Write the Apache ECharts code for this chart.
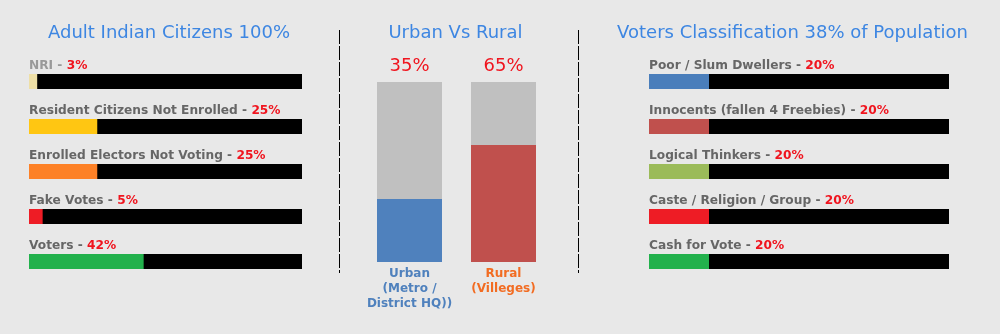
<!DOCTYPE html>
<html><head><meta charset="utf-8">
<script src="https://cdn.jsdelivr.net/npm/echarts@6/dist/echarts.min.js"></script>
<style>html,body{margin:0;padding:0;background:#e8e8e8}#c{width:1000px;height:334px}</style>
</head><body><div id="c"></div><script>
const titles = ['Adult Indian Citizens 100%', 'Urban Vs Rural', 'Voters Classification 38% of Population'];
const citizenCategories = ['NRI', 'Resident Citizens Not Enrolled', 'Enrolled Electors Not Voting', 'Fake Votes', 'Voters'];
const citizenValues = [3, 25, 25, 5, 42];
const citizenColors = ['#eedfa6', '#ffc612', '#fd8127', '#ee1c25', '#22b14c'];
const areaCategories = ['Urban\n(Metro /\nDistrict HQ))', 'Rural\n(Villeges)'];
const areaValues = [35, 65];
const areaColors = ['#4f81bd', '#c0504d'];
const areaLabelColors = ['#4f81bd', '#f26c22'];
const voterCategories = ['Poor / Slum Dwellers', 'Innocents (fallen 4 Freebies)', 'Logical Thinkers', 'Caste / Religion / Group', 'Cash for Vote'];
const voterValues = [20, 20, 20, 20, 20];
const voterColors = ['#4a7ebb', '#c0504d', '#9bbb59', '#ee1c25', '#22b14c'];
const SCALE_MAX = 100;

const FONT = 'DejaVu Sans, Verdana, sans-serif';
const chart = echarts.init(document.getElementById('c'), null, {renderer: 'canvas'});

function hSeries(idx, cats, vals, colors) {
  return {
    type: 'bar', xAxisIndex: idx, yAxisIndex: idx, barWidth: 15, silent: true,
    showBackground: true, backgroundStyle: {color: '#000000', opacity: 1},
    data: vals.map((v, i) => ({value: v, itemStyle: {color: colors[i]}})),
    label: {
      show: true, position: [0, -8], align: 'left', verticalAlign: 'middle',
      formatter: p => {
        const nm = cats[p.dataIndex];
        const st = nm === 'NRI' ? 'm' : 'n';
        return `{${st}|${nm} - }{v|${p.value}%}`;
      },
      rich: {
        n: {color: '#666666', fontFamily: FONT, fontWeight: 'bold', fontSize: 12.2},
        m: {color: '#999999', fontFamily: FONT, fontWeight: 'bold', fontSize: 12.2},
        v: {color: '#f0141e', fontFamily: FONT, fontWeight: 'bold', fontSize: 12.2}
      }
    }
  };
}

const hideAx = {show: false};
const option = {
  backgroundColor: '#e8e8e8',
  animation: false,
  title: [
    {text: titles[0], left: 164, top: 19.5, textAlign: 'center'},
    {text: titles[1], left: 450.5, top: 19.5, textAlign: 'center'},
    {text: titles[2], left: 787.5, top: 19.5, textAlign: 'center'}
  ].map(t => Object.assign(t, {textStyle: {color: '#3d86e2', fontFamily: FONT, fontWeight: 'normal', fontSize: 18}})),
  grid: [
    {left: 29, width: 273, top: 59, height: 225},
    {left: 362.5, width: 188, top: 82, height: 180},
    {left: 649, width: 300, top: 59, height: 225}
  ],
  xAxis: [
    {gridIndex: 0, type: 'value', min: 0, max: SCALE_MAX, show: false},
    {gridIndex: 1, type: 'category', data: areaCategories,
      axisLine: hideAx, axisTick: hideAx, splitLine: hideAx,
      axisLabel: {
        interval: 0, margin: 4,
        formatter: (v, i) => v.split('\n').map(l => `{c${i}|${l}}`).join('\n'),
        rich: {
          c0: {color: areaLabelColors[0], fontFamily: FONT, fontWeight: 'bold', fontSize: 12, lineHeight: 15, align: 'center'},
          c1: {color: areaLabelColors[1], fontFamily: FONT, fontWeight: 'bold', fontSize: 12, lineHeight: 15, align: 'center'}
        }
      }},
    {gridIndex: 2, type: 'value', min: 0, max: SCALE_MAX, show: false}
  ],
  yAxis: [
    {gridIndex: 0, type: 'category', data: citizenCategories, inverse: true, show: false},
    {gridIndex: 1, type: 'value', min: 0, max: SCALE_MAX, show: false},
    {gridIndex: 2, type: 'category', data: voterCategories, inverse: true, show: false}
  ],
  series: [
    hSeries(0, citizenCategories, citizenValues, citizenColors),
    {
      type: 'bar', xAxisIndex: 1, yAxisIndex: 1, barWidth: 65, silent: true,
      data: areaValues.map(() => SCALE_MAX),
      itemStyle: {color: '#c0c0c0'},
      label: {show: true, position: 'top', distance: 7,
        formatter: p => areaValues[p.dataIndex] + '%',
        color: '#f0141e', fontFamily: FONT, fontSize: 18}
    },
    {
      type: 'bar', xAxisIndex: 1, yAxisIndex: 1, barWidth: 65, barGap: '-100%', silent: true,
      data: areaValues.map((v, i) => ({value: v, itemStyle: {color: areaColors[i]}}))
    },
    hSeries(2, voterCategories, voterValues, voterColors)
  ],
  graphic: [
    {type: 'line', shape: {x1: 339.5, y1: 30, x2: 339.5, y2: 273}, style: {stroke: '#000', lineWidth: 1, lineDash: [14, 2]}},
    {type: 'line', shape: {x1: 578.5, y1: 30, x2: 578.5, y2: 273}, style: {stroke: '#000', lineWidth: 1, lineDash: [14, 2]}}
  ]
};
chart.setOption(option);
</script></body></html>
